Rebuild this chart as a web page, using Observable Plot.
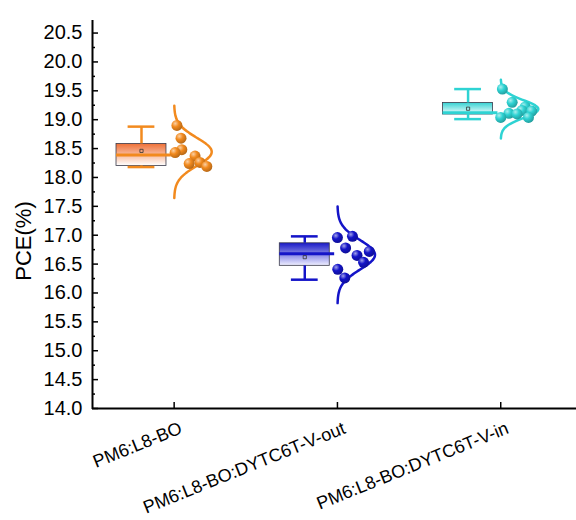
<!DOCTYPE html>
<html>
<head>
<meta charset="utf-8">
<script src="https://cdn.jsdelivr.net/npm/d3@7"></script>
<script src="https://cdn.jsdelivr.net/npm/@observablehq/plot@0.6"></script>
<style>
  body { margin: 0; background: #fff; }
  #chart svg { display: block; }
</style>
</head>
<body>
<div id="chart"></div>
<script>
// Device groups along the x axis
const categories = ["PM6:L8-BO", "PM6:L8-BO:DYTC6T-V-out", "PM6:L8-BO:DYTC6T-V-in"];
const colors = ["#f28a1e", "#1414c8", "#2ed3d3"];

// Individual device PCE values (%) and their horizontal spread inside each distribution
const pceL8BO = [18.90, 18.68, 18.48, 18.43, 18.37, 18.26, 18.24, 18.19];
const spreadL8BO = [0.017, 0.042, 0.047, 0.006, 0.128, 0.158, 0.092, 0.200];
const pceOut = [16.96, 16.98, 16.78, 16.65, 16.72, 16.53, 16.41, 16.26];
const spreadOut = [0.000, 0.092, 0.050, 0.120, 0.195, 0.160, 0.002, 0.045];
const pceIn = [19.53, 19.30, 19.22, 19.16, 19.15, 19.11, 19.10, 19.04, 19.04];
const spreadIn = [0.010, 0.070, 0.150, 0.130, 0.190, 0.050, 0.100, 0.000, 0.170];

// Box statistics per group
const boxMin = [18.18, 16.23, 19.01];
const boxQ1 = [18.20, 16.47, 19.09];
const boxMedian = [18.39, 16.68, 19.12];
const boxQ3 = [18.58, 16.86, 19.29];
const boxMax = [18.88, 16.98, 19.53];
const boxMean = [18.46, 16.62, 19.19];

// Axis ticks
const yMajor = d3.range(14, 20.51, 0.5);
const yMinor = d3.range(14.25, 20.7, 0.5);

const points = [pceL8BO, pceOut, pceIn];
const spreads = [spreadL8BO, spreadOut, spreadIn];
const slots = [1, 2, 3];

// layout of one group: box to the left of the slot, curve + dots to the right
const boxShift = -0.2, boxHalf = 0.153, capHalf = 0.082, curvePeak = 0.23, curveSpan = 3.3;

const marks = [];
categories.forEach((cat, i) => {
  const c = colors[i];
  const cx = slots[i] + boxShift;
  // box
  marks.push(Plot.rect([0], {
    x1: () => cx - boxHalf, x2: () => cx + boxHalf,
    y1: () => boxQ1[i], y2: () => boxQ3[i],
    fill: `url(#boxfill${i})`, stroke: "#3a3a4a", strokeWidth: 0.8
  }));
  // whiskers
  marks.push(Plot.ruleX([0], {x: () => cx, y1: () => boxQ3[i], y2: () => boxMax[i], stroke: c, strokeWidth: 2.5}));
  marks.push(Plot.ruleX([0], {x: () => cx, y1: () => boxMin[i], y2: () => boxQ1[i], stroke: c, strokeWidth: 2.5}));
  marks.push(Plot.ruleY([boxMax[i], boxMin[i]], {x1: cx - capHalf, x2: cx + capHalf, stroke: c, strokeWidth: 2.5}));
  // median
  marks.push(Plot.ruleY([boxMedian[i]], {x1: cx - boxHalf, x2: cx + boxHalf + 0.03, stroke: c, strokeWidth: 3}));
  // mean
  marks.push(Plot.dot([boxMean[i]], {x: cx, y: d => d, symbol: "square", r: 1.8, stroke: "#333", strokeWidth: 0.8, fill: "none"}));
  // normal distribution curve from the group's mean and SD
  const vals = points[i];
  const mu = d3.mean(vals), sd = d3.deviation(vals);
  const curve = d3.range(-curveSpan, curveSpan + 1e-9, curveSpan / 60).map(z => ({
    y: mu + z * sd,
    x: slots[i] + curvePeak * Math.exp(-0.5 * z * z)
  }));
  marks.push(Plot.line(curve, {x: "x", y: "y", stroke: c, strokeWidth: 2.5, curve: "natural"}));
  // individual devices
  const pts = vals.map((v, k) => ({v, x: slots[i] + spreads[i][k]}));
  marks.push(Plot.dot(pts, {x: "x", y: "v", r: 5.5, fill: `url(#ball${i})`, stroke: "none"}));
});

const chart = Plot.plot({
  width: 576,
  height: 520,
  marginLeft: 92,
  marginRight: 0,
  marginTop: 21,
  marginBottom: 112,
  style: {fontFamily: "'Liberation Sans', Arial, sans-serif", color: "#000", background: "#fff"},
  x: {domain: [0.5, 3.464], axis: null},
  y: {domain: [14, 20.7], axis: null},
  marks: [
    ...marks,
    // axis lines
    Plot.ruleX([0.5], {y1: 14, y2: 20.7, stroke: "#000", strokeWidth: 2, strokeLinecap: "square"}),
    Plot.ruleY([14], {stroke: "#000", strokeWidth: 2}),
    // y ticks (inward) and labels
    Plot.axisY({ticks: yMajor, tickSize: -6, tickPadding: 16, tickFormat: d3.format(".1f"), fontSize: 20, strokeWidth: 1.5, label: null}),
    Plot.axisY({ticks: yMinor, tickSize: -3, tickFormat: () => "", strokeWidth: 1.5, label: null}),
    // x ticks (inward)
    Plot.axisX({ticks: slots, tickSize: -6, tickFormat: () => "", strokeWidth: 1.5, label: null}),
    // category labels
    Plot.text(categories, {x: (d, i) => slots[i], y: 14, text: d => d, rotate: -22, textAnchor: "end", dx: 7, dy: 19, fontSize: 18, fill: "#000"}),
    // y title
    Plot.text(["PCE(%)"], {x: 0.5, y: 16.9, text: d => d, rotate: -90, dx: -69, fontSize: 22, fill: "#000"})
  ]
});

// gradients for boxes and spheres
const defs = d3.select(chart).insert("defs", ":first-child");
const boxTop = ["#ef7036", "#1a1ac8", "#35d2d2"];
const boxBottom = ["#ffffff", "#eeeeff", "#effefe"];
colors.forEach((c, i) => {
  const lg = defs.append("linearGradient").attr("id", `boxfill${i}`).attr("x1", 0).attr("y1", 0).attr("x2", 0).attr("y2", 1);
  lg.append("stop").attr("offset", "0%").attr("stop-color", boxTop[i]);
  lg.append("stop").attr("offset", "100%").attr("stop-color", boxBottom[i]);
  const rg = defs.append("radialGradient").attr("id", `ball${i}`).attr("cx", "35%").attr("cy", "32%").attr("r", "70%");
  rg.append("stop").attr("offset", "0%").attr("stop-color", d3.interpolateRgb(c, "#ffffff")(0.6));
  rg.append("stop").attr("offset", "45%").attr("stop-color", c);
  rg.append("stop").attr("offset", "100%").attr("stop-color", d3.interpolateRgb(c, "#000000")(0.25));
});

document.getElementById("chart").appendChild(chart);
</script>
</body>
</html>
